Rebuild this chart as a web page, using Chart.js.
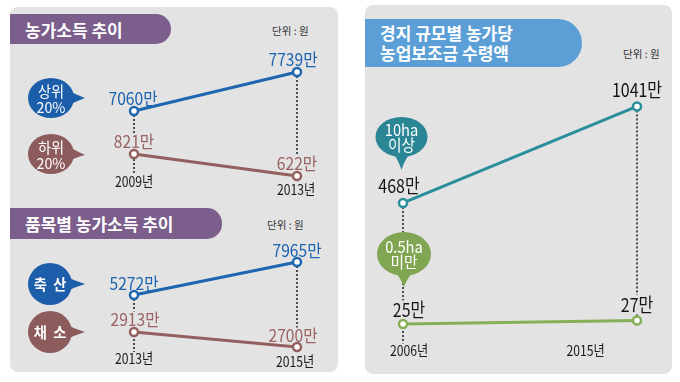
<!DOCTYPE html>
<html>
<head>
<meta charset="utf-8">
<script src="https://cdn.jsdelivr.net/npm/chart.js@4"></script>
<style>
  body { margin: 0; width: 680px; height: 382px; background: #fff; position: relative; overflow: hidden; font-family: 'Noto Sans CJK KR', sans-serif; }
  .panel { position: absolute; background: #e3e3e4; border-radius: 8px; }
  .banner { position: absolute; color: #fff; font-weight: bold; font-size: 17px; box-sizing: border-box; padding-left: 15px; display: flex; flex-direction: column; justify-content: center; }
  .purple { background: #7b5e8c; border-radius: 0 15px 15px 0; }
  .blue { background: #5b9fd6; border-radius: 0 24px 24px 0; line-height: 20px; }
  .unit { position: absolute; font-size: 10.5px; color: #333; }
  canvas { position: absolute; }
</style>
</head>
<body>
<div class="panel" style="left:10px;top:7px;width:328px;height:365px"></div>
<div class="panel" style="left:365px;top:5px;width:307px;height:369px"></div>

<div class="banner purple" style="left:10px;top:14px;width:161px;height:30px">농가소득 추이</div>
<div class="unit" style="left:272px;top:23px">단위 : 원</div>

<div class="banner purple" style="left:10px;top:208px;width:212px;height:31px">품목별 농가소득 추이</div>
<div class="unit" style="left:267px;top:217px">단위 : 원</div>

<div class="banner blue" style="left:365px;top:19px;width:217px;height:48px"><div>경지 규모별 농가당</div><div>농업보조금 수령액</div></div>
<div class="unit" style="left:623px;top:46px">단위 : 원</div>

<canvas id="c1" width="340" height="200" style="left:0;top:0"></canvas>
<canvas id="c2" width="340" height="187" style="left:0;top:195px"></canvas>
<canvas id="c3" width="340" height="382" style="left:340px;top:0"></canvas>

<script>
// 농가소득 추이
const years1 = ['2009년', '2013년'];
const names1 = ['상위\n20%', '하위\n20%'];
const top20 = [7060, 7739];
const bottom20 = [821, 622];

// 품목별 농가소득 추이
const years2 = ['2013년', '2015년'];
const names2 = ['축  산', '채  소'];
const livestock = [5272, 7965];
const vegetables = [2913, 2700];

// 경지 규모별 농가당 농업보조금 수령액
const years3 = ['2006년', '2015년'];
const names3 = ['10ha\n이상', '0.5ha\n미만'];
const over10ha = [468, 1041];
const under05ha = [25, 27];

const PANEL = '#e3e3e4';
const FONT = "'Noto Sans CJK KR', sans-serif";

// 글자를 가로로 좁혀서 그리기
function drawText(ctx, text, x, y, size, weight, color, sx) {
    ctx.save();
    ctx.font = weight + ' ' + size + 'px ' + FONT;
    ctx.fillStyle = color;
    ctx.textAlign = 'center';
    ctx.textBaseline = 'middle';
    ctx.translate(x, y);
    ctx.scale(sx, 1);
    ctx.fillText(text, 0, 0);
    ctx.restore();
}

function textWidth(ctx, text, size, weight, sx) {
    ctx.save();
    ctx.font = weight + ' ' + size + 'px ' + FONT;
    const w = ctx.measureText(text).width * sx;
    ctx.restore();
    return w;
}

// 말풍선 (범례 대신)
function drawBubble(ctx, b, color, text, o) {
    ctx.save();
    ctx.fillStyle = color;
    ctx.beginPath();
    ctx.ellipse(b.x, b.y, b.rx, b.ry, 0, 0, Math.PI * 2);
    ctx.fill();
    ctx.beginPath();
    if (b.tail === 'right') {
        ctx.moveTo(b.x + b.rx - 8, b.y - 9);
        ctx.quadraticCurveTo(b.x + b.rx + 2, b.y - 3, b.tx, b.ty);
        ctx.quadraticCurveTo(b.x + b.rx + 2, b.y + 3, b.x + b.rx - 8, b.y + 9);
    } else {
        ctx.moveTo(b.x - 10, b.y + b.ry - 6);
        ctx.quadraticCurveTo(b.x - 3, b.y + b.ry + 3, b.tx, b.ty);
        ctx.quadraticCurveTo(b.x + 3, b.y + b.ry + 3, b.x + 10, b.y + b.ry - 6);
    }
    ctx.closePath();
    ctx.fill();
    ctx.restore();
    const lines = text.split('\n');
    lines.forEach((t, k) => {
        const yy = b.y + (k - (lines.length - 1) / 2) * o.bubbleLine + o.bubbleShift;
        drawText(ctx, t, b.x, yy, o.bubbleSize, o.bubbleWeight, '#fff', o.bubbleScale);
    });
}

const infoPlugin = {
    id: 'info',
    beforeDatasetsDraw(chart, args, o) {
        const ctx = chart.ctx;
        const sets = chart.data.datasets;
        const metas = sets.map((d, i) => chart.getDatasetMeta(i));
        const topMeta = metas[0];
        const botMeta = metas[metas.length - 1];

        // 점선 (세로)
        ctx.save();
        ctx.strokeStyle = '#4a4a4a';
        ctx.lineWidth = 2;
        ctx.setLineDash([2, 2]);
        chart.data.labels.forEach((lab, i) => {
            const p0 = topMeta.data[i], p1 = botMeta.data[i];
            const yEnd = o.guideToYear[i] ? p1.y + o.years[i].dy - 7 : p1.y;
            ctx.beginPath();
            ctx.moveTo(p0.x, p0.y);
            ctx.lineTo(p0.x, yEnd);
            ctx.stroke();
        });
        ctx.restore();

        // 연도
        chart.data.labels.forEach((lab, i) => {
            const p = botMeta.data[i];
            drawText(ctx, lab, p.x + o.years[i].dx, p.y + o.years[i].dy, o.yearSize, 'normal', '#1a1a1a', 0.84);
        });

        // 말풍선
        sets.forEach((d, i) => drawBubble(ctx, o.bubbles[i], d.bubbleColor, d.label, o));

        // 값 라벨 (배경으로 점선 가림)
        sets.forEach((d, i) => {
            metas[i].data.forEach((p, j) => {
                const off = o.valueOffsets[i][j];
                const txt = d.data[j] + '만';
                const x = p.x + off.dx, y = p.y + off.dy;
                const w = textWidth(ctx, txt, o.valueSize, o.valueWeight, o.valueScale);
                ctx.fillStyle = PANEL;
                ctx.fillRect(x - w / 2 - 1, y - o.valueSize / 2, w + 2, o.valueSize - 1);
                drawText(ctx, txt, x, y, o.valueSize, o.valueWeight, d.textColor, o.valueScale);
            });
        });
    }
};

function lineSet(label, data, color, bubbleColor, textColor, axis) {
    return {
        label: label,
        data: data,
        yAxisID: axis,
        borderColor: color,
        borderWidth: 3,
        pointRadius: 4,
        pointBorderWidth: 2.5,
        pointBackgroundColor: '#fff',
        pointBorderColor: color,
        bubbleColor: bubbleColor,
        textColor: textColor,
        clip: false,
        tension: 0
    };
}

function makeChart(id, labels, sets, ranges, padding, info) {
    return new Chart(document.getElementById(id), {
        type: 'line',
        data: { labels: labels, datasets: sets },
        options: {
            responsive: false,
            animation: false,
            devicePixelRatio: 1,
            layout: { padding: padding },
            plugins: { legend: { display: false }, tooltip: { enabled: false }, info: info },
            scales: {
                x: { display: false, offset: false },
                a: { display: false, min: ranges[0][0], max: ranges[0][1] }, //위쪽 선
                b: { display: false, min: ranges[1][0], max: ranges[1][1] }  //아래쪽 선
            }
        },
        plugins: [infoPlugin]
    });
}

const leftText = { valueSize: 17, valueWeight: 'normal', valueScale: 0.92, yearSize: 14.5,
                   bubbleSize: 15, bubbleWeight: 'normal', bubbleScale: 0.95, bubbleLine: 16, bubbleShift: 1 };

makeChart('c1', years1, [
    lineSet(names1[0], top20, '#1f66b1', '#1c5ea9', '#1c63b0', 'a'),
    lineSet(names1[1], bottom20, '#94605f', '#8c5b5c', '#9a6262', 'b')
], [[5859, 7948], [586, 1671]], { left: 134, right: 43, top: 60, bottom: 20 }, Object.assign({}, leftText, {
    years: [{ dx: 0, dy: 27.5 }, { dx: -1, dy: 13.5 }],
    guideToYear: [true, false],
    valueOffsets: [[{ dx: -1, dy: -12 }, { dx: -4, dy: -12 }], [{ dx: 0, dy: -12 }, { dx: 0, dy: -12 }]],
    bubbles: [{ x: 51, y: 98, rx: 23, ry: 20, tail: 'right', tx: 85, ty: 98 },
              { x: 51, y: 154, rx: 23, ry: 20, tail: 'right', tx: 85, ty: 155 }]
}));

makeChart('c2', years2, [
    lineSet(names2[0], livestock, '#1f66b1', '#1c5ea9', '#1c63b0', 'a'),
    lineSet(names2[1], vegetables, '#94605f', '#8c5b5c', '#9a6262', 'b')
], [[-440, 10168], [2444, 4290]], { left: 134, right: 43, top: 40, bottom: 17 }, Object.assign({}, leftText, {
    bubbleSize: 15, bubbleWeight: 'bold', bubbleShift: 0,
    years: [{ dx: 0, dy: 27 }, { dx: -2, dy: 14.5 }],
    guideToYear: [true, false],
    valueOffsets: [[{ dx: 0, dy: -11.5 }, { dx: 0, dy: -11 }], [{ dx: 1, dy: -12 }, { dx: -4, dy: -11 }]],
    bubbles: [{ x: 50, y: 89, rx: 22, ry: 21, tail: 'right', tx: 85, ty: 89 },
              { x: 50, y: 137, rx: 22, ry: 21, tail: 'right', tx: 85, ty: 137 }]
}));

makeChart('c3', years3, [
    lineSet(names3[0], over10ha, '#2b8e9d', '#2a8595', '#151515', 'a'),
    lineSet(names3[1], under05ha, '#86af57', '#80a653', '#151515', 'b')
], [[-405, 1198], [10.1, 164.4]], { left: 63, right: 43, top: 80, bottom: 32 }, {
    valueSize: 19, valueWeight: 'normal', valueScale: 0.84, yearSize: 14.5,
    bubbleSize: 16, bubbleWeight: 'normal', bubbleScale: 0.92, bubbleLine: 15, bubbleShift: 0,
    years: [{ dx: 6, dy: 26.5 }, { dx: -51.5, dy: 30 }],
    guideToYear: [true, false],
    valueOffsets: [[{ dx: -4, dy: -17 }, { dx: 0, dy: -17 }], [{ dx: 6, dy: -14 }, { dx: 0, dy: -16 }]],
    bubbles: [{ x: 61.5, y: 137, rx: 26, ry: 20, tail: 'down', tx: 61.5, ty: 170 },
              { x: 64, y: 254, rx: 27, ry: 22, tail: 'down', tx: 64, ty: 287 }]
});
</script>
</body>
</html>
